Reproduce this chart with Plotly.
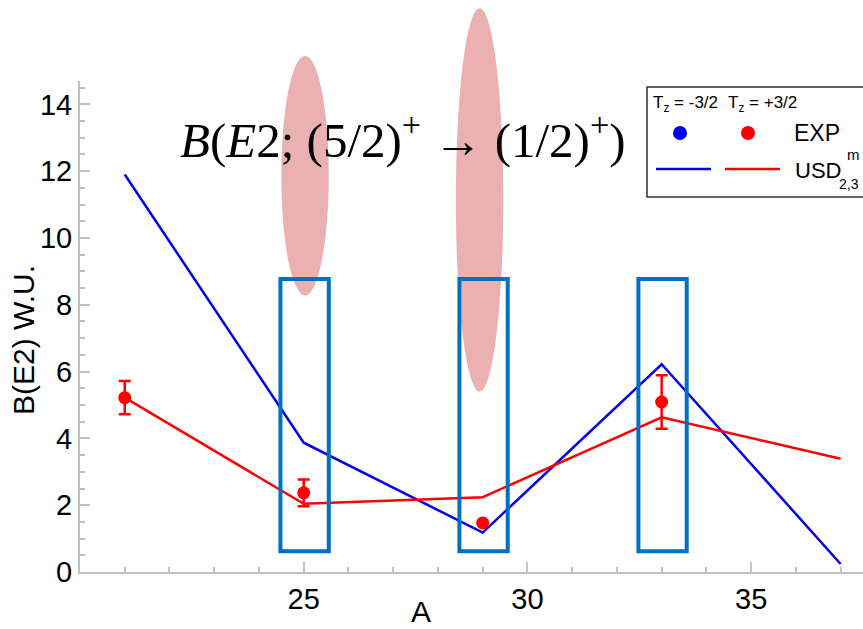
import plotly.graph_objects as go

# ---- data ----
A_vals = [21, 25, 29, 33, 37]
usd_tz_minus = [11.9, 3.87, 1.18, 6.22, 0.24]   # blue, Tz = -3/2
usd_tz_plus = [5.22, 2.04, 2.24, 4.63, 3.39]    # red, Tz = +3/2
exp_A = [21, 25, 29, 33]
exp_tz_plus = [5.22, 2.37, 1.47, 5.09]
exp_err = [0.5, 0.4, 0.0, 0.8]
x_ticks = [25, 30, 35]
y_ticks = [0, 2, 4, 6, 8, 10, 12, 14]
highlight_A = [25, 29, 33]

XMIN, XMAX = 20, 37.5
YMIN, YMAX = 0, 14.7

# figure geometry (pixels)
W, H = 863, 629
ML, MR, MT, MB = 80, 0, 81, 57
PW, PH = W - ML - MR, H - MT - MB


def px(x):
    return (x - ML) / PW


def py(y):
    return (H - MB - y) / PH


fig = go.Figure()

fig.add_trace(go.Scatter(x=A_vals, y=usd_tz_minus, mode="lines",
                         line=dict(color="#0000ee", width=2.5), showlegend=False))
fig.add_trace(go.Scatter(x=A_vals, y=usd_tz_plus, mode="lines",
                         line=dict(color="#ff0000", width=2.5), showlegend=False))
fig.add_trace(go.Scatter(x=exp_A, y=exp_tz_plus, mode="markers",
                         marker=dict(color="#ff0000", size=13),
                         error_y=dict(type="data", array=exp_err, visible=True,
                                      color="#ff0000", thickness=2.5, width=6),
                         showlegend=False))

shapes = []
# pink ellipses (x in data, y in paper so they may extend above the plot)
ell = [(24.5, 25.56, 8.28, 15.45), (28.4, 29.46, 5.40, 16.88)]
for x0, x1, y0, y1 in ell:
    shapes.append(dict(type="circle", xref="x", yref="paper",
                       x0=x0, x1=x1, y0=y0 / YMAX, y1=y1 / YMAX,
                       fillcolor="#ebb1b1", line=dict(width=0), layer="above"))
# blue rectangles
for a in highlight_A:
    shapes.append(dict(type="rect", xref="x", yref="y",
                       x0=a - 0.52, x1=a + 0.56, y0=0.62, y1=8.77,
                       line=dict(color="#0070c0", width=4), layer="above"))

# legend box
shapes.append(dict(type="rect", xref="paper", yref="paper",
                   x0=px(647), x1=px(875), y0=py(197), y1=py(87),
                   line=dict(color="#333333", width=1.5), fillcolor="white", layer="above"))
# legend markers
for cx, col in [(680, "#0000ee"), (748, "#ff0000")]:
    shapes.append(dict(type="circle", xref="paper", yref="paper",
                       x0=px(cx - 7), x1=px(cx + 7), y0=py(133 + 7), y1=py(133 - 7),
                       fillcolor=col, line=dict(width=0), layer="above"))
for x0, x1, col in [(656, 711, "#0000ee"), (725, 780, "#ff0000")]:
    shapes.append(dict(type="line", xref="paper", yref="paper",
                       x0=px(x0), x1=px(x1), y0=py(169), y1=py(169),
                       line=dict(color=col, width=2.5), layer="above"))


def ann(text, x, y, size, anchor="left", family="Liberation Sans", angle=0):
    return dict(text=text, xref="paper", yref="paper", x=px(x), y=py(y),
                xanchor=anchor, yanchor="middle", showarrow=False, textangle=angle,
                font=dict(family=family, size=size, color="black"))


annotations = [
    ann("<i>B</i>(<i>E</i>2; (5/2)<sup>+</sup> → (1/2)<sup>+</sup>)", 178, 136, 49,
        family="Liberation Serif"),
    ann("T<sub>z</sub> = -3/2", 651, 104, 17),
    ann("T<sub>z</sub> = +3/2", 726, 104, 17),
    ann("EXP", 792, 133, 23),
    ann("USD", 793, 170, 22),
    ann("m", 845, 154, 15),
    ann("2,3", 861, 184, 14, anchor="right"),
    ann("A", 421, 611, 30, anchor="center"),
    ann("B(E2) W.U.", 23, 340, 30, anchor="center", angle=-90),
]

axis_common = dict(showline=True, linecolor="#c0c0c0", linewidth=2, showgrid=False,
                   zeroline=False, ticks="inside", tickcolor="#c0c0c0", ticklen=10, tickwidth=1.5,
                   tickfont=dict(family="Liberation Sans", size=29, color="black"))

fig.update_layout(
    width=W, height=H,
    margin=dict(l=ML, r=MR, t=MT, b=MB),
    plot_bgcolor="white", paper_bgcolor="white",
    xaxis=dict(range=[XMIN, XMAX], tickvals=x_ticks,
               minor=dict(dtick=1, tick0=0, ticks="inside", ticklen=5, tickcolor="#c0c0c0"),
               **axis_common),
    yaxis=dict(range=[YMIN, YMAX], tickvals=y_ticks,
               minor=dict(dtick=0.5, tick0=0, ticks="inside", ticklen=5, tickcolor="#c0c0c0"),
               **axis_common),
    shapes=shapes, annotations=annotations, showlegend=False,
)

fig.write_html("out.html")
